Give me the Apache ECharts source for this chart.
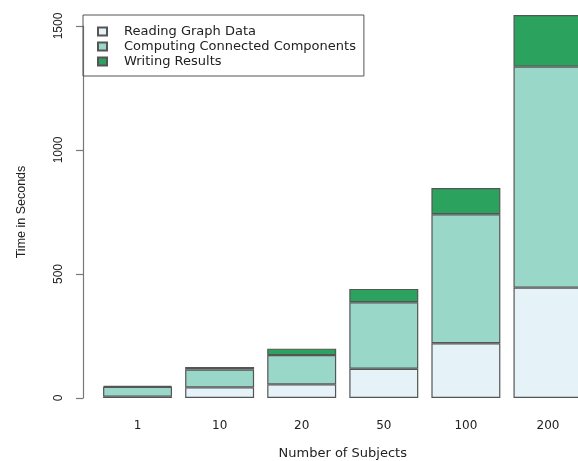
<!DOCTYPE html>
<html>
<head>
<meta charset="utf-8">
<script src="https://cdn.jsdelivr.net/npm/echarts@6/dist/echarts.min.js"></script>
<style>
html,body{margin:0;padding:0;background:#fff;overflow:hidden;}
#container{width:589px;height:461px;}
</style>
</head>
<body>
<div id="container"></div>
<script>
var subjects = ['1', '10', '20', '50', '100', '200'];
var readingData = [5, 43, 55, 118, 221, 445];
var computingData = [40, 72, 118, 268, 520, 891];
var writingData = [4, 10, 26, 54, 106, 208];
var yTicks = [0, 500, 1000, 1500];

var seriesNames = ['Reading Graph Data', 'Computing Connected Components', 'Writing Results'];
var seriesColors = ['#e5f3f9', '#99d8c9', '#2ca25f'];

// plot is cut off on the right in the original, so the div is a bit wider than the window
var myChart = echarts.init(document.getElementById('container'));

function makeSeries(idx, data) {
	return {
		name: seriesNames[idx],
		type: 'bar',
		stack: 'total',
		data: data,
		barCategoryGap: '16%',
		clip: false,
		itemStyle: {
			color: seriesColors[idx],
			borderColor: '#555',
			borderWidth: 1.2
		}
	};
}

var option = {
	backgroundColor: '#fff',
	animation: false,
	grid: {
		left: 96.5,
		right: 0,
		top: 26,
		bottom: 63,
		outerBoundsMode: 'none'
	},
	legend: {
		orient: 'vertical',
		left: 83,
		top: 15,
		data: seriesNames,
		icon: 'rect',
		itemWidth: 9,
		itemHeight: 8,
		itemGap: 2,
		padding: [10, 8, 8, 14],
		borderColor: '#555',
		borderWidth: 1,
		textStyle: {
			fontFamily: 'DejaVu Sans',
			fontSize: 13,
			color: '#222',
			padding: [0, 0, 0, 12]
		}
	},
	xAxis: {
		type: 'category',
		data: subjects,
		name: 'Number of Subjects',
		nameLocation: 'middle',
		nameGap: 49,
		nameTextStyle: {
			fontFamily: 'DejaVu Sans',
			fontSize: 13,
			color: '#222'
		},
		axisLine: {show: false},
		axisTick: {show: false},
		axisLabel: {
			margin: 22,
			fontFamily: 'DejaVu Sans',
			fontSize: 12,
			color: '#222'
		}
	},
	yAxis: {
		type: 'value',
		min: yTicks[0],
		max: yTicks[yTicks.length - 1],
		interval: 500,
		offset: 13.5,
		name: 'Time in Seconds',
		nameLocation: 'middle',
		nameRotate: 90,
		nameGap: 55,
		nameTextStyle: {
			fontFamily: 'Liberation Sans',
			fontSize: 12.5,
			color: '#222'
		},
		splitLine: {show: false},
		axisLine: {show: true, lineStyle: {color: '#777', width: 1.2}},
		axisTick: {show: true, length: 7, lineStyle: {color: '#777', width: 1.2}},
		axisLabel: {
			rotate: 90,
			margin: 18,
			fontFamily: 'Liberation Sans',
			fontSize: 12,
			color: '#222',
			formatter: function (v) { return String(v); }
		}
	},
	series: [
		makeSeries(0, readingData),
		makeSeries(1, computingData),
		makeSeries(2, writingData)
	]
};

if (option && typeof option === "object") {
	myChart.setOption(option, true);
}
</script>
</body>
</html>
